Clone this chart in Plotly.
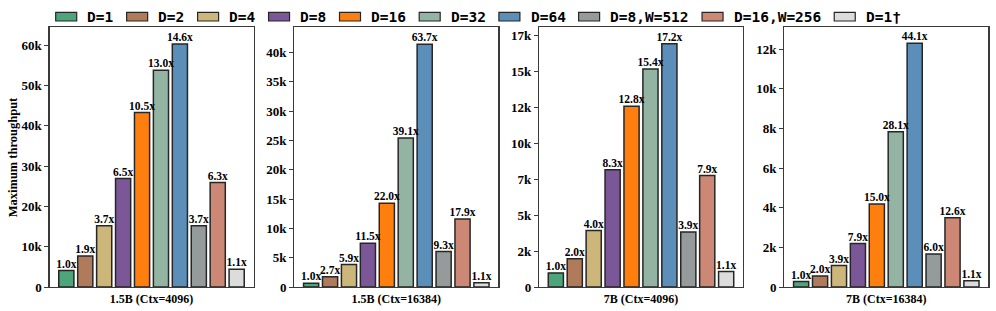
import plotly.graph_objects as go

# ---------------- data ----------------
series = ["D=1", "D=2", "D=4", "D=8", "D=16", "D=32", "D=64",
          "D=8,W=512", "D=16,W=256", "D=1†"]
colors = ["#4da57b", "#b07b5b", "#cdb679", "#7b5797", "#ff7f0e",
          "#94b4a3", "#5b8eb8", "#959b9a", "#cd8775", "#dcdcdc"]

panels = ["1.5B (Ctx=4096)", "1.5B (Ctx=16384)", "7B (Ctx=4096)", "7B (Ctx=16384)"]

thr_15b_4096 = [4100, 7700, 15200, 26900, 43300, 53800, 60300, 15200, 25900, 4400]
thr_15b_16384 = [650, 1750, 3830, 7480, 14300, 25400, 41400, 6050, 11600, 720]
thr_7b_4096 = [980, 1960, 3920, 8140, 12550, 15150, 16900, 3820, 7750, 1070]
thr_7b_16384 = [280, 560, 1090, 2200, 4190, 7840, 12300, 1670, 3500, 310]

spd_15b_4096 = ["1.0x", "1.9x", "3.7x", "6.5x", "10.5x", "13.0x", "14.6x", "3.7x", "6.3x", "1.1x"]
spd_15b_16384 = ["1.0x", "2.7x", "5.9x", "11.5x", "22.0x", "39.1x", "63.7x", "9.3x", "17.9x", "1.1x"]
spd_7b_4096 = ["1.0x", "2.0x", "4.0x", "8.3x", "12.8x", "15.4x", "17.2x", "3.9x", "7.9x", "1.1x"]
spd_7b_16384 = ["1.0x", "2.0x", "3.9x", "7.9x", "15.0x", "28.1x", "44.1x", "6.0x", "12.6x", "1.1x"]

yticks_15b_4096 = [0, 10000, 20000, 30000, 40000, 50000, 60000]
ylabels_15b_4096 = ["0", "10k", "20k", "30k", "40k", "50k", "60k"]
yticks_15b_16384 = [0, 5000, 10000, 15000, 20000, 25000, 30000, 35000, 40000]
ylabels_15b_16384 = ["0", "5k", "10k", "15k", "20k", "25k", "30k", "35k", "40k"]
yticks_7b_4096 = [0, 2500, 5000, 7500, 10000, 12500, 15000, 17500]
ylabels_7b_4096 = ["0", "2k", "5k", "7k", "10k", "12k", "15k", "17k"]
yticks_7b_16384 = [0, 2000, 4000, 6000, 8000, 10000, 12000]
ylabels_7b_16384 = ["0", "2k", "4k", "6k", "8k", "10k", "12k"]

values = [thr_15b_4096, thr_15b_16384, thr_7b_4096, thr_7b_16384]
speedups = [spd_15b_4096, spd_15b_16384, spd_7b_4096, spd_7b_16384]
yticks = [yticks_15b_4096, yticks_15b_16384, yticks_7b_4096, yticks_7b_16384]
ylabels = [ylabels_15b_4096, ylabels_15b_16384, ylabels_7b_4096, ylabels_7b_16384]
ymax = [64500, 44350, 18060, 13120]

# ---------------- layout geometry ----------------
W, H = 996, 311
ML, MR, MT, MB = 49, 7, 27, 24
PW = W - ML - MR
PH = H - MT - MB
panel_left = [49.5, 294.3, 539.0, 784.3]
panel_w = 204.0


def px2paper(px):
    return (px - ML) / PW


def py2paper(py):
    return (H - MB - py) / PH


serif = "Liberation Serif, Times New Roman, serif"
mono = "DejaVu Sans Mono, monospace"
edge = "#262626"
frame = "#3a3a3a"

fig = go.Figure()
xs = list(range(len(series)))

layout = dict(
    width=W, height=H,
    margin=dict(l=ML, r=MR, t=MT, b=MB, autoexpand=False),
    paper_bgcolor="white", plot_bgcolor="white",
    showlegend=False,
    bargap=0.2,
)

for i in range(4):
    sx = "" if i == 0 else str(i + 1)
    xa, ya = "x" + sx, "y" + sx
    fig.add_trace(go.Bar(
        x=xs, y=values[i], width=0.8, xaxis=xa, yaxis=ya,
        marker=dict(color=colors, line=dict(color=edge, width=1.5)),
        hoverinfo="skip",
    ))
    fig.add_trace(go.Scatter(
        x=xs, y=values[i], xaxis=xa, yaxis=ya, mode="text",
        text=speedups[i], textposition="top center",
        textfont=dict(family=serif, size=11.5, color="black", weight="bold"),
        cliponaxis=False, hoverinfo="skip",
    ))
    x0 = max(0.0, px2paper(panel_left[i]))
    x1 = min(1.0, px2paper(panel_left[i] + panel_w))
    layout["xaxis" + sx] = dict(
        domain=[x0, x1], anchor=ya, range=[-0.89, 9.89],
        tickvals=[4.5], ticktext=[panels[i]], ticks="",
        tickfont=dict(family=serif, size=12, color="black", weight="bold"),
        showline=True, linecolor=frame, linewidth=1.2, mirror=True,
        showgrid=False, zeroline=False, fixedrange=True, automargin=False,
    )
    layout["yaxis" + sx] = dict(
        domain=[0, 1], anchor=xa, range=[0, ymax[i]],
        tickvals=yticks[i], ticktext=ylabels[i],
        ticks="outside", ticklen=4, tickwidth=1, tickcolor=frame,
        tickfont=dict(family=serif, size=13, color="black", weight="bold"),
        showline=True, linecolor=frame, linewidth=1.2, mirror=True,
        showgrid=False, zeroline=False, fixedrange=True, automargin=False,
    )

# custom legend (wide short boxes like the reference)
shapes = []
annotations = []
bx = 55.7
char_w = 8.75
for name, col in zip(series, colors):
    shapes.append(dict(
        type="rect", xref="paper", yref="paper",
        x0=px2paper(bx), x1=px2paper(bx + 21),
        y0=py2paper(21.0), y1=py2paper(12.3),
        fillcolor=col, line=dict(color=edge, width=1.2), layer="above",
    ))
    annotations.append(dict(
        xref="paper", yref="paper", x=px2paper(bx + 21 + 8.7), y=py2paper(16.7),
        xanchor="left", yanchor="middle", showarrow=False, text=name,
        font=dict(family=mono, size=14.5, color="black", weight="bold"),
    ))
    bx += 21 + 9.7 + len(name) * char_w + 14

annotations.append(dict(
    xref="paper", yref="paper", x=px2paper(13.3), y=0.5,
    xanchor="center", yanchor="middle", showarrow=False, textangle=-90,
    text="Maximum throughput",
    font=dict(family=serif, size=12.5, color="black", weight="bold"),
))

layout["shapes"] = shapes
layout["annotations"] = annotations
fig.update_layout(**layout)

fig.write_html(
    "out.html",
    config={"displayModeBar": False, "staticPlot": True},
    post_script="document.body.style.margin='0';document.body.style.padding='0';",
)
